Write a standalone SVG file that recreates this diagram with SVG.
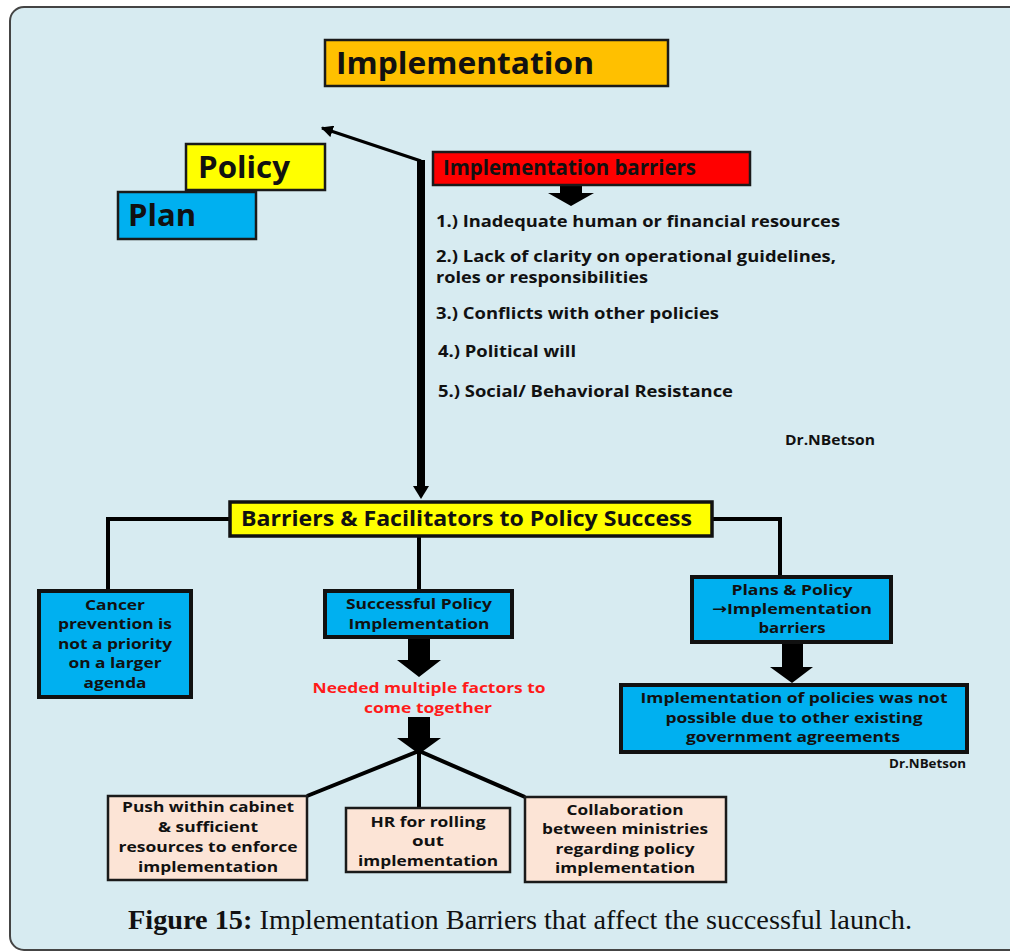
<svg xmlns="http://www.w3.org/2000/svg" width="1010" height="952" viewBox="0 0 1010 952">
  <style>
    .t { font-family: "Open Sans", "DejaVu Sans", sans-serif; font-weight: 700; fill: #111; }
    .c { text-anchor: middle; }
    .box2 { stroke: #1a1a1a; stroke-width: 2.5; }
    .box4 { stroke: #111; stroke-width: 4; }
    .line { fill: none; stroke: #000; stroke-width: 4; }
    .blk { fill: #000; }
  </style>
  <defs>
    <marker id="thin" viewBox="0 0 10 10" refX="9" refY="5" markerWidth="4" markerHeight="4" orient="auto">
      <path d="M0,0 L10,5 L0,10 z" fill="#000"/>
    </marker>
  </defs>

  <!-- page frame -->
  <rect x="0" y="0" width="1010" height="952" fill="#fff"/>
  <rect x="10" y="7" width="1030" height="943" rx="14" fill="#D7EBF1" stroke="#444" stroke-width="2"/>

  <!-- connectors -->
  <g id="connectors">
    <line x1="421" y1="161" x2="322" y2="128" stroke="#000" stroke-width="3" marker-end="url(#thin)"/>
    <rect x="417" y="160" width="8" height="328" class="blk"/>
    <path d="M413,486 L429,486 L421,499 z" class="blk"/>
    <path d="M560,185 L582,185 L582,193 L594,193 L571,206 L548,193 L560,193 z" class="blk"/>
    <path d="M230,519 L108,519 L108,591" class="line"/>
    <path d="M419,536 L419,591" class="line"/>
    <path d="M712,519 L780,519 L780,577" class="line"/>
    <path d="M408,637 L430,637 L430,660 L441,660 L419,677 L397,660 L408,660 z" class="blk"/>
    <path d="M408,717 L430,717 L430,738 L441,738 L419,754 L397,738 L408,738 z" class="blk"/>
    <path d="M307,796 L419,751 L525,797" class="line"/>
    <path d="M419,751 L419,808" class="line"/>
    <path d="M782,642 L803,642 L803,667 L813,667 L792,683 L770,667 L782,667 z" class="blk"/>
  </g>

  <g id="implementation">
    <rect x="325" y="40" width="343" height="46" fill="#FFC000" class="box2"/>
    <text x="336" y="74" class="t" font-size="31" textLength="258" lengthAdjust="spacingAndGlyphs">Implementation</text>
  </g>

  <g id="policy">
    <rect x="186" y="144" width="139" height="46" fill="#FFFF00" class="box2"/>
    <text x="198" y="178" class="t" font-size="31" textLength="92" lengthAdjust="spacingAndGlyphs">Policy</text>
  </g>

  <g id="plan">
    <rect x="118" y="192" width="138" height="47" fill="#00B0F0" class="box2"/>
    <text x="128" y="226" class="t" font-size="31" textLength="68" lengthAdjust="spacingAndGlyphs">Plan</text>
  </g>

  <g id="barriers">
    <rect x="433" y="152" width="317" height="33" fill="#FF0000" class="box2"/>
    <text x="443" y="175" class="t" font-size="20.5" textLength="253" lengthAdjust="spacingAndGlyphs">Implementation barriers</text>
  </g>

  <g id="barrier-list" class="t" font-size="16">
    <text x="436" y="227" textLength="404" lengthAdjust="spacingAndGlyphs">1.) Inadequate human or financial resources</text>
    <text x="436" y="262" textLength="400" lengthAdjust="spacingAndGlyphs">2.) Lack of clarity on operational guidelines,</text>
    <text x="436" y="283" textLength="212" lengthAdjust="spacingAndGlyphs">roles or responsibilities</text>
    <text x="436" y="319" textLength="283" lengthAdjust="spacingAndGlyphs">3.) Conflicts with other policies</text>
    <text x="438" y="357" textLength="138" lengthAdjust="spacingAndGlyphs">4.) Political will</text>
    <text x="438" y="397" textLength="295" lengthAdjust="spacingAndGlyphs">5.) Social/ Behavioral Resistance</text>
  </g>
  <text x="785" y="445" class="t" font-size="13.5" textLength="90" lengthAdjust="spacingAndGlyphs">Dr.NBetson</text>

  <g id="facilitators">
    <rect x="230" y="502" width="482" height="34" fill="#FFFF00" stroke="#111" stroke-width="3.5"/>
    <text x="241" y="526" class="t" font-size="21" textLength="451" lengthAdjust="spacingAndGlyphs">Barriers &amp; Facilitators to Policy Success</text>
  </g>

  <g id="cancer">
    <rect x="39" y="591" width="152" height="106" fill="#00B0F0" class="box4"/>
    <g class="t c" font-size="14.5">
      <text x="115" y="610" textLength="60" lengthAdjust="spacingAndGlyphs">Cancer</text>
      <text x="115" y="629" textLength="114" lengthAdjust="spacingAndGlyphs">prevention is</text>
      <text x="115" y="649" textLength="114" lengthAdjust="spacingAndGlyphs">not a priority</text>
      <text x="115" y="668" textLength="93" lengthAdjust="spacingAndGlyphs">on a larger</text>
      <text x="115" y="688" textLength="63" lengthAdjust="spacingAndGlyphs">agenda</text>
    </g>
  </g>

  <g id="successful">
    <rect x="325" y="591" width="187" height="46" fill="#00B0F0" class="box4"/>
    <g class="t c" font-size="14.5">
      <text x="419" y="609" textLength="146" lengthAdjust="spacingAndGlyphs">Successful Policy</text>
      <text x="419" y="629" textLength="141" lengthAdjust="spacingAndGlyphs">Implementation</text>
    </g>
  </g>

  <g id="needed" class="t c" font-size="14.5">
    <text x="429" y="693" fill="#FF1A1A" textLength="233" lengthAdjust="spacingAndGlyphs">Needed multiple factors to</text>
    <text x="428" y="713" fill="#FF1A1A" textLength="128" lengthAdjust="spacingAndGlyphs">come together</text>
  </g>

  <g id="plans-policy">
    <rect x="692" y="577" width="199" height="65" fill="#00B0F0" class="box4"/>
    <g class="t c" font-size="14.5">
      <text x="792" y="595" textLength="121" lengthAdjust="spacingAndGlyphs">Plans &amp; Policy</text>
      <text x="792" y="614" textLength="160" lengthAdjust="spacingAndGlyphs">→Implementation</text>
      <text x="792" y="633" textLength="67" lengthAdjust="spacingAndGlyphs">barriers</text>
    </g>
  </g>

  <g id="not-possible">
    <rect x="621" y="685" width="346" height="67" fill="#00B0F0" class="box4"/>
    <g class="t c" font-size="14.5">
      <text x="794" y="703" textLength="307" lengthAdjust="spacingAndGlyphs">Implementation of policies was not</text>
      <text x="794" y="723" textLength="257" lengthAdjust="spacingAndGlyphs">possible due to other existing</text>
      <text x="793" y="742" textLength="214" lengthAdjust="spacingAndGlyphs">government agreements</text>
    </g>
  </g>
  <text x="889" y="768" class="t" font-size="12" textLength="77" lengthAdjust="spacingAndGlyphs">Dr.NBetson</text>

  <g id="push">
    <rect x="108" y="796" width="199" height="84" fill="#FCE4D6" class="box2"/>
    <g class="t c" font-size="14">
      <text x="208" y="812" textLength="172" lengthAdjust="spacingAndGlyphs">Push within cabinet</text>
      <text x="208" y="832" textLength="100" lengthAdjust="spacingAndGlyphs">&amp; sufficient</text>
      <text x="208" y="852" textLength="179" lengthAdjust="spacingAndGlyphs">resources to enforce</text>
      <text x="208" y="872" textLength="140" lengthAdjust="spacingAndGlyphs">implementation</text>
    </g>
  </g>

  <g id="hr">
    <rect x="346" y="808" width="164" height="64" fill="#FCE4D6" class="box2"/>
    <g class="t c" font-size="14">
      <text x="428" y="827" textLength="115" lengthAdjust="spacingAndGlyphs">HR for rolling</text>
      <text x="428" y="846" textLength="32" lengthAdjust="spacingAndGlyphs">out</text>
      <text x="428" y="866" textLength="140" lengthAdjust="spacingAndGlyphs">implementation</text>
    </g>
  </g>

  <g id="collaboration">
    <rect x="525" y="797" width="201" height="85" fill="#FCE4D6" class="box2"/>
    <g class="t c" font-size="14">
      <text x="625" y="815" textLength="117" lengthAdjust="spacingAndGlyphs">Collaboration</text>
      <text x="625" y="834" textLength="166" lengthAdjust="spacingAndGlyphs">between ministries</text>
      <text x="625" y="854" textLength="139" lengthAdjust="spacingAndGlyphs">regarding policy</text>
      <text x="625" y="873" textLength="140" lengthAdjust="spacingAndGlyphs">implementation</text>
    </g>
  </g>

  <text x="128" y="929" font-family="'Liberation Serif', 'DejaVu Serif', serif" font-size="27" fill="#111" textLength="784" lengthAdjust="spacingAndGlyphs"><tspan font-weight="700">Figure 15:</tspan> Implementation Barriers that affect the successful launch.</text>
</svg>
